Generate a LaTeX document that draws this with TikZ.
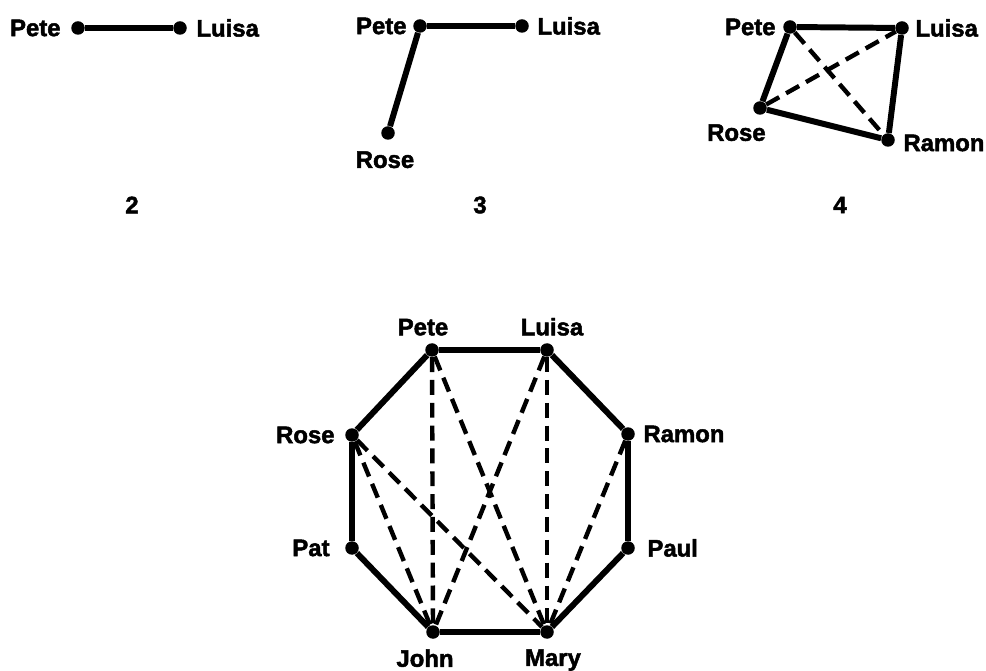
\documentclass[tikz,border=0pt]{standalone}
\usepackage{fontspec}
\setmainfont{Liberation Sans}[FakeBold=2]
\usepackage{tikz}
\usetikzlibrary{positioning}

\begin{document}
\begin{tikzpicture}[
    x=0.02cm, y=-0.02cm,
    font=\bfseries\fontsize{13.6}{16}\selectfont,
    pers/.style={circle, fill=black, inner sep=0pt, minimum size=0.27cm},
    lbl/.style={inner sep=0pt},
    tie/.style={line width=3.4pt},
    weak/.style={line width=2.5pt, dash pattern=on 8.5pt off 4.5pt}
  ]
  \useasboundingbox (0,0) rectangle (986,671);

  % Group of 2
  \node[pers] (a-pete) at (78,28) {};
  \node[pers] (a-luisa) at (180,28) {};
  \node[lbl, left=0.2cm of a-pete] (a-pete-l) {Pete};
  \node[lbl, right=0.18cm of a-luisa] (a-luisa-l) {Luisa};
  \node (n2) at (132,205) {2};
  \draw[tie] (a-pete) -- (a-luisa);

  % Group of 3
  \node[pers] (b-pete) at (420,26) {};
  \node[pers] (b-luisa) at (522,26) {};
  \node[pers] (b-rose) at (388,133) {};
  \node[lbl, left=0.12cm of b-pete] (b-pete-l) {Pete};
  \node[lbl, right=0.16cm of b-luisa] (b-luisa-l) {Luisa};
  \node[lbl, below=0.22cm of b-rose, xshift=-0.06cm] (b-rose-l) {Rose};
  \node (n3) at (480,205) {3};
  \draw[tie] (b-pete) -- (b-luisa);
  \draw[tie] (b-pete) -- (b-rose);

  % Group of 4
  \node[pers] (c-pete) at (790,27) {};
  \node[pers] (c-luisa) at (902,28) {};
  \node[pers] (c-rose) at (760,108) {};
  \node[pers] (c-ramon) at (888,140) {};
  \node[lbl, left=0.14cm of c-pete] (c-pete-l) {Pete};
  \node[lbl, right=0.12cm of c-luisa] (c-luisa-l) {Luisa};
  \node[lbl, below left=0.22cm and -0.22cm of c-rose] (c-rose-l) {Rose};
  \node[lbl, right=0.16cm of c-ramon, yshift=-0.06cm] (c-ramon-l) {Ramon};
  \node (n4) at (840,205) {4};
  \draw[tie] (c-pete) -- (c-luisa);
  \draw[tie] (c-luisa) -- (c-ramon);
  \draw[tie] (c-ramon) -- (c-rose);
  \draw[tie] (c-rose) -- (c-pete);
  \draw[weak] (c-pete) -- (c-ramon);
  \draw[weak] (c-rose) -- (c-luisa);

  % Group of 8
  \node[pers] (o-pete) at (432,350) {};
  \node[pers] (o-luisa) at (547,350) {};
  \node[pers] (o-ramon) at (628,434) {};
  \node[pers] (o-paul) at (628,548) {};
  \node[pers] (o-mary) at (547,632) {};
  \node[pers] (o-john) at (433,632) {};
  \node[pers] (o-pat) at (352,548) {};
  \node[pers] (o-rose) at (352,435) {};
  \node[lbl, above=0.14cm of o-pete, xshift=-0.18cm] (o-pete-l) {Pete};
  \node[lbl, above=0.14cm of o-luisa, xshift=0.1cm] (o-luisa-l) {Luisa};
  \node[lbl, right=0.16cm of o-ramon] (o-ramon-l) {Ramon};
  \node[lbl, right=0.24cm of o-paul] (o-paul-l) {Paul};
  \node[lbl, below=0.2cm of o-mary, xshift=0.12cm] (o-mary-l) {Mary};
  \node[lbl, below=0.2cm of o-john, xshift=-0.16cm] (o-john-l) {John};
  \node[lbl, left=0.3cm of o-pat] (o-pat-l) {Pat};
  \node[lbl, left=0.2cm of o-rose] (o-rose-l) {Rose};
  \draw[tie] (o-pete) -- (o-luisa) -- (o-ramon) -- (o-paul) -- (o-mary)
    -- (o-john) -- (o-pat) -- (o-rose) -- (o-pete);
  \draw[weak] (o-pete) -- (o-john);
  \draw[weak] (o-pete) -- (o-mary);
  \draw[weak] (o-luisa) -- (o-john);
  \draw[weak] (o-luisa) -- (o-mary);
  \draw[weak] (o-ramon) -- (o-mary);
  \draw[weak] (o-rose) -- (o-john);
  \draw[weak] (o-rose) -- (o-mary);

\end{tikzpicture}
\end{document}
